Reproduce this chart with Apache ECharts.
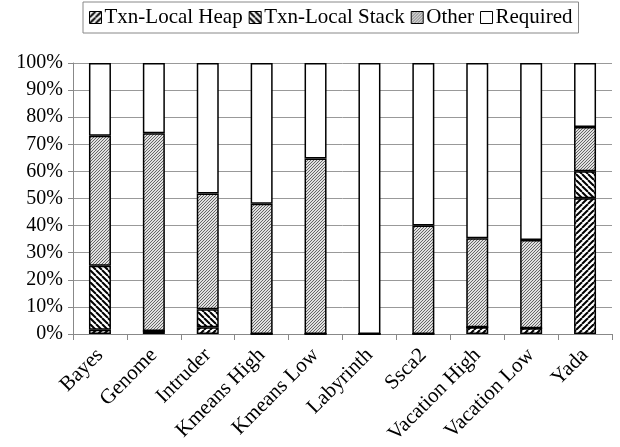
<!DOCTYPE html>
<html>
<head>
<meta charset="utf-8">
<script src="https://cdn.jsdelivr.net/npm/echarts@6/dist/echarts.min.js"></script>
<style>
  html, body { margin: 0; padding: 0; background: #fff; }
  #chart { width: 620px; height: 447px; }
</style>
</head>
<body>
<div id="chart"></div>
<script>
// Benchmarks and the share of each kind of memory access (percent)
const categories = ['Bayes', 'Genome', 'Intruder', 'Kmeans High', 'Kmeans Low',
                    'Labyrinth', 'Ssca2', 'Vacation High', 'Vacation Low', 'Yada'];
const txnLocalHeap  = [1.6, 1.1, 2.5, 0, 0, 0, 0, 2.5, 2.1, 50.1];
const txnLocalStack = [23.6, 0, 6.6, 0, 0, 0, 0, 0, 0, 10.0];
const other         = [48.0, 73.0, 42.7, 48.1, 64.8, 0, 40.0, 32.8, 32.6, 16.3];
const required      = [26.8, 25.9, 48.2, 51.9, 35.2, 100, 60.0, 64.7, 65.3, 23.6];
const yTicks = ['0%', '10%', '20%', '30%', '40%', '50%', '60%', '70%', '80%', '90%', '100%'];

const FONT = 'Liberation Serif, Times New Roman, DejaVu Serif, serif';

// Hatch tiles used as fill patterns
function hatch(size, dir, lineWidth, fg, bg) {
  const c = document.createElement('canvas');
  c.width = size; c.height = size;
  const g = c.getContext('2d');
  g.fillStyle = bg; g.fillRect(0, 0, size, size);
  g.strokeStyle = fg; g.lineWidth = lineWidth;
  for (let i = -1; i <= 1; i++) {
    g.beginPath();
    if (dir > 0) { g.moveTo(i * size, size); g.lineTo(i * size + size, 0); }
    else { g.moveTo(i * size, 0); g.lineTo(i * size + size, size); }
    g.stroke();
  }
  return { image: c, repeat: 'repeat' };
}

const heapFill  = hatch(6, 1, 2, '#000', '#fff');
const stackFill = hatch(6, -1, 2, '#000', '#fff');
const otherFill = hatch(3, 1, 1, '#666', '#e0e0e0');

function seriesOf(name, data, fill) {
  return {
    name, type: 'bar', stack: 'total', data,
    barWidth: 22,
    itemStyle: { color: fill, borderColor: '#000', borderWidth: 1.5 },
    emphasis: { disabled: true }
  };
}

const chart = echarts.init(document.getElementById('chart'), null, { renderer: 'canvas' });
chart.setOption({
  animation: false,
  backgroundColor: '#fff',
  textStyle: { fontFamily: FONT },
  legend: {
    left: 83, top: 2,
    padding: [5, 6, 5, 6],
    itemWidth: 12, itemHeight: 12, itemGap: 6,
    borderColor: '#888', borderWidth: 1,
    icon: 'rect',
    itemStyle: { borderColor: '#000', borderWidth: 1 },
    textStyle: { fontFamily: FONT, fontSize: 21, color: '#000', padding: [0, 0, 0, -2] },
    data: ['Txn-Local Heap', 'Txn-Local Stack', 'Other', 'Required']
  },
  grid: { left: 73, right: 8, top: 63, bottom: 113, containLabel: false },
  xAxis: {
    type: 'category',
    data: categories,
    axisLine: { lineStyle: { color: '#888', width: 1 } },
    axisTick: { show: true, length: 6, lineStyle: { color: '#888' } },
    axisLabel: {
      rotate: 45, interval: 0, margin: 18,
      fontFamily: FONT, fontSize: 21, color: '#000'
    }
  },
  yAxis: {
    type: 'value', min: 0, max: 100, interval: 10,
    axisLine: { show: true, lineStyle: { color: '#888', width: 1 } },
    axisTick: { show: true, length: 5, inside: false, lineStyle: { color: '#888' } },
    splitLine: { show: true, lineStyle: { color: '#999', width: 1 } },
    axisLabel: {
      margin: 10, fontFamily: FONT, fontSize: 20, color: '#000',
      formatter: v => yTicks[Math.round(v / 10)]
    }
  },
  series: [
    seriesOf('Txn-Local Heap', txnLocalHeap, heapFill),
    seriesOf('Txn-Local Stack', txnLocalStack, stackFill),
    seriesOf('Other', other, otherFill),
    seriesOf('Required', required, '#fff')
  ]
});
</script>
</body>
</html>
